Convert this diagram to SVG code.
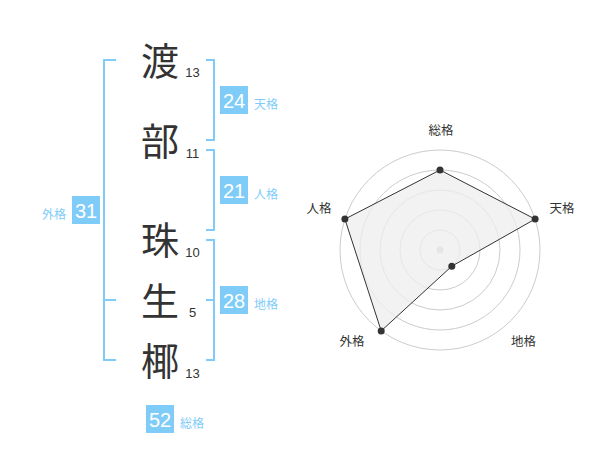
<svg xmlns="http://www.w3.org/2000/svg" width="600" height="470" viewBox="0 0 600 470">
<style>
.ch{font-family:"Noto Sans CJK JP","Noto Sans CJK SC",sans-serif;font-size:38px;fill:#333;text-anchor:middle}
.st{font-family:"Liberation Sans",Arial,sans-serif;font-size:13px;fill:#333;text-anchor:middle}
.br{fill:none;stroke:#80ccf9;stroke-width:2}
.bx{fill:#80ccf9}
.bn{font-family:"Liberation Sans",Arial,sans-serif;font-size:20px;fill:#fff;text-anchor:middle}
.lb{font-family:"Noto Sans CJK JP","Noto Sans CJK SC",sans-serif;font-size:12px;fill:#80ccf9}
.rl{font-family:"Noto Sans CJK JP","Noto Sans CJK SC",sans-serif;font-size:12.5px;fill:#333;text-anchor:middle}
.ring{fill:none;stroke:#ccc;stroke-width:1}
.pt{fill:#333}
</style>
<rect width="600" height="470" fill="#fff"/>
<g id="chars">
<text class="ch" x="160" y="75">渡</text>
<text class="st" x="192.5" y="77">13</text>
<text class="ch" x="160" y="155">部</text>
<text class="st" x="192.5" y="158">11</text>
<text class="ch" x="160" y="254">珠</text>
<text class="st" x="192.5" y="257">10</text>
<text class="ch" x="160" y="315">生</text>
<text class="st" x="192.5" y="317">5</text>
<text class="ch" x="160" y="375">椰</text>
<text class="st" x="192.5" y="378">13</text>
</g>
<g id="brackets">
<path class="br" d="M116,60H104V360H116M104,300H116"/>
<path class="br" d="M206,60H214V140H206"/>
<path class="br" d="M206,150H214V230H206"/>
<path class="br" d="M206,240H214V360H206M206,300H214"/>
</g>
<g id="tenkaku">
<rect class="bx" x="220" y="86" width="28" height="28"/>
<text class="bn" x="234" y="108">24</text>
<text class="lb" x="254" y="109">天格</text>
</g>
<g id="jinkaku">
<rect class="bx" x="220" y="176" width="28" height="28"/>
<text class="bn" x="234" y="198">21</text>
<text class="lb" x="254" y="199">人格</text>
</g>
<g id="chikaku">
<rect class="bx" x="220" y="286" width="28" height="28"/>
<text class="bn" x="234" y="308">28</text>
<text class="lb" x="254" y="309">地格</text>
</g>
<g id="gaikaku">
<rect class="bx" x="72" y="196" width="28" height="28"/>
<text class="bn" x="86" y="218">31</text>
<text class="lb" x="66" y="219" text-anchor="end">外格</text>
</g>
<g id="soukaku">
<rect class="bx" x="146" y="405" width="28" height="28"/>
<text class="bn" x="160" y="427">52</text>
<text class="lb" x="180" y="428">総格</text>
</g>
<g id="radar">
<circle class="ring" cx="440" cy="250" r="20"/>
<circle class="ring" cx="440" cy="250" r="40"/>
<circle class="ring" cx="440" cy="250" r="60"/>
<circle class="ring" cx="440" cy="250" r="80"/>
<circle class="ring" cx="440" cy="250" r="100"/>
<circle cx="440" cy="250" r="3.5" fill="#ccc"/>
<polygon points="440,170 535.1,219.1 451.8,266.2 381.2,330.9 344.9,219.1" fill="#eee" fill-opacity="0.75" stroke="#333" stroke-width="1"/>
<circle class="pt" cx="440" cy="170" r="3.5"/>
<circle class="pt" cx="535.1" cy="219.1" r="3.5"/>
<circle class="pt" cx="451.8" cy="266.2" r="3.5"/>
<circle class="pt" cx="381.2" cy="330.9" r="3.5"/>
<circle class="pt" cx="344.9" cy="219.1" r="3.5"/>
<text class="rl" x="441" y="135">総格</text>
<text class="rl" x="562" y="213">天格</text>
<text class="rl" x="319" y="213">人格</text>
<text class="rl" x="352" y="346">外格</text>
<text class="rl" x="523.5" y="346">地格</text>
</g>
</svg>
